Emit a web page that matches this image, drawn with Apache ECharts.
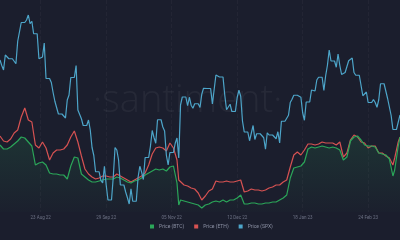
<!DOCTYPE html>
<html>
<head>
<meta charset="utf-8">
<script src="https://cdn.jsdelivr.net/npm/echarts@6/dist/echarts.min.js"></script>
<style>
html,body{margin:0;padding:0;background:#1b1e2d;}
#c{width:400px;height:240px;}
</style>
</head>
<body>
<div id="c"></div>
<script>
// Day offsets counted from 31 Jul 2022
const tickDays = [23, 60, 97, 134, 171, 208];
const tickLabels = ['23 Aug 22', '29 Sep 22', '05 Nov 22', '12 Dec 22', '18 Jan 23', '24 Feb 23'];
const seriesNames = ['Price (BTC)', 'Price (ETH)', 'Price (SPX)'];

const btcDays = [0,2,4,6,8,10,12,14,16,18,20,22,24,26,28,30,32,34,36,38,40,42,44,46,48,50,52,54,56,58,60,62,64,66,68,70,72,74,76,78,80,82,84,86,88,90,92,94,96,98,100,101,102,104,106,108,110,112,114,116,118,120,122,124,126,128,130,132,134,136,138,140,142,144,146,148,150,152,154,156,158,160,162,164,166,168,170,172,174,176,178,180,182,184,186,188,190,192,194,196,198,200,202,204,206,208,210,212,214,216,218,220,222,223,225,226];
const btcValues = [23240,22760,22760,23000,23360,23720,24200,24080,23600,23120,20840,21080,21200,20840,19880,19760,19760,19640,19640,19160,20720,21800,21680,19760,19400,19040,18800,18800,18920,19040,19160,19160,19160,19400,19280,19040,18800,18680,18920,19040,19280,19640,19880,20120,20360,20240,20360,20120,20600,20720,18680,16040,16640,16520,16400,16280,16160,16040,15680,16040,16160,16400,16520,16400,16640,16400,16640,16640,16880,17240,16160,16160,16280,16280,16160,16160,16280,16280,16400,16400,16640,16880,17240,19280,20480,20600,20720,21200,22760,23000,22880,23000,23120,23000,22880,23000,22880,22640,21440,21800,23720,24200,24320,23840,23240,23120,23120,23000,22280,22160,22040,21560,19520,20240,23120,24200];

const ethDays = btcDays;
const ethValues = [1690,1640,1630,1660,1720,1750,1880,1970,1850,1830,1600,1570,1630,1570,1450,1520,1550,1550,1560,1600,1680,1740,1630,1490,1360,1310,1280,1260,1270,1290,1290,1280,1280,1310,1290,1270,1250,1230,1250,1270,1290,1320,1400,1510,1570,1580,1570,1540,1620,1570,1450,1250,1240,1200,1190,1170,1160,1120,1050,1090,1140,1160,1240,1230,1230,1240,1230,1230,1240,1250,1130,1140,1160,1150,1150,1140,1150,1170,1180,1200,1200,1230,1250,1380,1500,1530,1500,1550,1610,1610,1600,1610,1630,1620,1620,1620,1600,1630,1480,1520,1650,1700,1680,1630,1620,1570,1590,1590,1520,1520,1490,1470,1400,1470,1630,1680];

// S&P 500, one value per calendar day (weekends carry Friday close)
const spxValues = [4140,4118,4100,4160,4152,4145,4145,4145,4140,4125,4215,4207,4290,4290,4290,4300,4320,4285,4295,4245,4245,4245,4145,4138,4152,4208,4066,4066,4066,4050,4010,3975,3968,3924,3924,3924,3924,3908,3980,4000,4070,4070,4070,4118,3940,3946,3905,3878,3878,3878,3900,3860,3790,3758,3693,3693,3693,3658,3648,3715,3640,3580,3580,3580,3672,3790,3780,3740,3640,3640,3640,3612,3589,3564,3625,3575,3575,3575,3670,3715,3692,3662,3750,3750,3750,3795,3858,3830,3807,3901,3901,3901,3872,3856,3759,3720,3770,3770,3770,3807,3828,3748,3960,3992,3992,3992,3957,3991,3959,3947,3965,3965,3965,3950,4003,4027,4027,4026,4026,4026,3964,3958,4080,4076,4072,4072,4072,3999,3941,3933,3963,3934,3934,3934,3990,4019,3995,3896,3852,3852,3852,3817,3821,3878,3822,3845,3845,3845,3845,3829,3783,3849,3840,3840,3840,3840,3825,3853,3808,3895,3895,3895,3893,3919,3970,3983,3999,3999,3999,3999,3991,3929,3899,3972,3972,3972,4020,4017,4016,4060,4071,4071,4071,4018,4077,4119,4180,4136,4136,4136,4111,4164,4118,4082,4090,4090,4090,4137,4136,4148,4090,4079,4079,4079,4079,3997,3991,4012,3970,3970,3970,3982,3970,3951,3981,4045,4045,4045,4048,3986,3992,3918,3862,3862,3862,3855,3920];

const btcData = btcDays.map((d, i) => [d, btcValues[i]]);
const ethData = ethDays.map((d, i) => [d, ethValues[i]]);
const spxData = spxValues.map((v, i) => [i, v]);

const chart = echarts.init(document.getElementById('c'), null, {renderer: 'canvas'});
chart.setOption({
  backgroundColor: '#1b1e2d',
  animation: false,
  graphic: [{
    type: 'text', left: 93, top: 82, z: 0,
    style: {text: '·santiment·', fill: 'rgba(255,255,255,0.05)', font: '300 38px "Open Sans", sans-serif'}
  }],
  grid: {left: 0, right: 0, top: 0, bottom: 28, containLabel: false},
  legend: {
    data: seriesNames, bottom: 6, left: 145, icon: 'rect',
    itemWidth: 4, itemHeight: 4, itemGap: 10,
    textStyle: {color: '#8b90a3', fontSize: 5, fontFamily: 'Roboto'}
  },
  xAxis: {
    type: 'value', min: 0, max: 226,
    axisLine: {show: false}, axisTick: {show: false, customValues: tickDays},
    splitLine: {show: true, lineStyle: {color: 'rgba(255,255,255,0.035)', type: 'dashed', width: 1}},
    axisLabel: {
      customValues: tickDays, color: '#6d7285', fontSize: 4.5, fontFamily: 'Roboto', margin: 3,
      formatter: (v) => tickLabels[tickDays.indexOf(Math.round(v))] || ''
    }
  },
  yAxis: [
    {type: 'value', show: false, min: 15200, max: 40640, splitLine: {show: false}},
    {type: 'value', show: false, min: 930, max: 3050, splitLine: {show: false}},
    {type: 'value', show: false, min: 3532, max: 4380, splitLine: {show: false}}
  ],
  series: [
    {name: seriesNames[1], type: 'line', yAxisIndex: 1, data: ethData, showSymbol: false,
     lineStyle: {color: '#d65252', width: 1.2}, itemStyle: {color: '#d65252'}, z: 2},
    {name: seriesNames[0], type: 'line', yAxisIndex: 0, data: btcData, showSymbol: false,
     lineStyle: {color: '#2ba659', width: 1.2}, itemStyle: {color: '#2ba659'}, z: 3,
     areaStyle: {color: new echarts.graphic.LinearGradient(0, 0, 0, 1, [
       {offset: 0, color: 'rgba(43,166,89,0.22)'}, {offset: 1, color: 'rgba(43,166,89,0.02)'}])}},
    {name: seriesNames[2], type: 'line', yAxisIndex: 2, data: spxData, showSymbol: false,
     lineStyle: {color: '#4da5c9', width: 1.2}, itemStyle: {color: '#4da5c9'}, z: 4}
  ]
});
</script>
</body>
</html>
